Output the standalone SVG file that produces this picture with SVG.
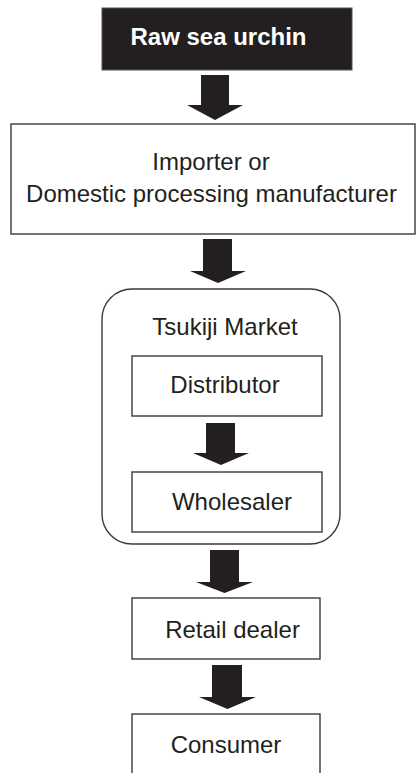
<svg xmlns="http://www.w3.org/2000/svg" width="420" height="773" viewBox="0 0 420 773">
<style>
.box{fill:#fff;stroke:#3a3a3a;stroke-width:1.4}
.t{font-family:"Liberation Sans",Arial,sans-serif;font-size:24px;fill:#231f20;text-anchor:middle}
.arrow{fill:#231f20}
</style>
<rect width="420" height="773" fill="#fff"/>
<g id="raw">
<rect x="102" y="8" width="250" height="62" fill="#231f20" stroke="#555" stroke-width="1"/>
<text class="t" x="218.5" y="45" style="fill:#fff;font-weight:bold">Raw sea urchin</text>
</g>
<g id="importer">
<rect class="box" x="11" y="124" width="404" height="110"/>
<text class="t" x="211" y="170">Importer or</text>
<text class="t" x="211.5" y="202">Domestic processing manufacturer</text>
</g>
<g id="tsukiji">
<rect class="box" x="102" y="289" width="238" height="255" rx="30" ry="30"/>
<text class="t" x="225" y="335">Tsukiji Market</text>
</g>
<g id="distributor">
<rect class="box" x="132" y="356" width="190" height="60"/>
<text class="t" x="225" y="393">Distributor</text>
</g>
<g id="wholesaler">
<rect class="box" x="132" y="472" width="190" height="60"/>
<text class="t" x="232" y="510">Wholesaler</text>
</g>
<g id="retail">
<rect class="box" x="132" y="598" width="188" height="61"/>
<text class="t" x="232.5" y="638">Retail dealer</text>
</g>
<g id="consumer">
<rect class="box" x="132" y="714" width="188" height="70"/>
<text class="t" x="226" y="753">Consumer</text>
</g>
<g id="connectors">
<polygon class="arrow" points="201,75 229,75 229,105 243,105 215,120 187,105 201,105"/>
<polygon class="arrow" points="203,239 232,239 232,271 246,271 218,283 190,271 203,271"/>
<polygon class="arrow" points="206,423 235,423 235,453 249,453 221,465 193,453 206,453"/>
<polygon class="arrow" points="210,550 239,550 239,582 253,582 224.5,593 196,582 210,582"/>
<polygon class="arrow" points="212,665 242,665 242,697 256,697 227.5,709 199,697 212,697"/>
</g>
</svg>
